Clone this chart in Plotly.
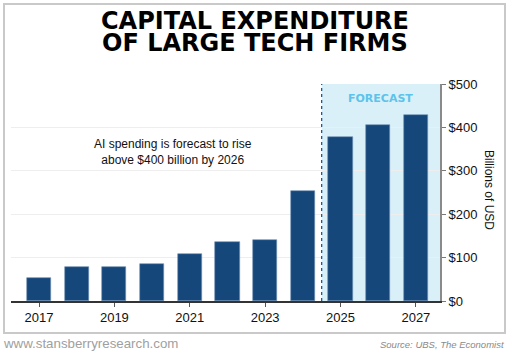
import plotly.graph_objects as go

years = [2017, 2018, 2019, 2020, 2021, 2022, 2023, 2024, 2025, 2026, 2027]
capex = [54, 79, 79, 86, 108, 136, 141, 254, 378, 405, 429]
tick_years = [2017, 2019, 2021, 2023, 2025, 2027]
tick_year_labels = [str(y) for y in tick_years]
y_ticks = [0, 100, 200, 300, 400, 500]
y_tick_labels = ["$" + str(v) for v in y_ticks]
forecast_start = 2024.5

W, H = 510, 352
L, R, T, B = 11, 440, 84, 301  # plot area in px

def px(x):
    return (x - L) / (R - L)

def py(y):
    return (B - y) / (B - T)

BAR = "#16477b"
FONT = "Liberation Sans"
TITLE_FONT = dict(family="DejaVu Sans", size=24, color="black", weight=700)

fig = go.Figure()
fig.add_trace(go.Bar(
    x=years, y=capex, width=0.64,
    marker=dict(color=BAR, line=dict(color="#6f8fb3", width=0.6)),
    hoverinfo="x+y",
))

shapes = [
    dict(type="rect", xref="x", yref="y", x0=forecast_start, x1=2027.64, y0=0, y1=500,
         fillcolor="#daf0f9", line=dict(width=0), layer="below"),
    dict(type="line", xref="x", yref="y", x0=forecast_start, x1=forecast_start, y0=0, y1=500,
         line=dict(color="#1d5a96", width=1.3, dash="3px,3px"), layer="above"),
    dict(type="rect", xref="paper", yref="paper", x0=px(4), x1=px(505), y0=py(333), y1=py(4),
         line=dict(color="#c9c9c9", width=2), fillcolor="rgba(0,0,0,0)", layer="below"),
]

annotations = [
    dict(text="CAPITAL EXPENDITURE", x=px(255), y=py(21), xref="paper", yref="paper",
         showarrow=False, font=TITLE_FONT, xanchor="center", yanchor="middle"),
    dict(text="OF LARGE TECH FIRMS", x=px(255), y=py(43.5), xref="paper", yref="paper",
         showarrow=False, font=TITLE_FONT, xanchor="center", yanchor="middle"),
    dict(text="AI spending is forecast to rise<br>above $400 billion by 2026", x=px(173), y=py(152),
         xref="paper", yref="paper", showarrow=False, align="center",
         font=dict(family=FONT, size=12, color="#111"), xanchor="center", yanchor="middle"),
    dict(text="FORECAST", x=px(380), y=py(98), xref="paper", yref="paper", showarrow=False,
         font=dict(family="DejaVu Sans", size=11, color="#5cc3ea", weight=700),
         xanchor="center", yanchor="middle"),
    dict(text="Billions of USD", x=px(489), y=py(190), xref="paper", yref="paper", showarrow=False,
         textangle=90, font=dict(family=FONT, size=12, color="#111"),
         xanchor="center", yanchor="middle"),
    dict(text="www.stansberryresearch.com", x=px(1), y=py(343), xref="paper", yref="paper",
         showarrow=False, font=dict(family=FONT, size=13.3, color="#a0a0a0"),
         xanchor="left", yanchor="middle"),
    dict(text="<i>Source: UBS, The Economist</i>", x=px(506), y=py(344), xref="paper", yref="paper",
         showarrow=False, font=dict(family=FONT, size=9.5, color="#8a8a8a"),
         xanchor="right", yanchor="middle"),
]

fig.update_layout(
    width=W, height=H,
    margin=dict(l=L, r=W - R, t=T, b=H - B),
    paper_bgcolor="white", plot_bgcolor="white",
    showlegend=False, bargap=0,
    shapes=shapes, annotations=annotations,
    font=dict(family=FONT, color="#111"),
)
fig.update_xaxes(
    range=[2016.257, 2027.64], tickvals=tick_years, ticktext=tick_year_labels,
    ticks="outside", ticklen=4, tickcolor="#555", tickwidth=1,
    showline=True, linecolor="#333", linewidth=1.5, showgrid=False, zeroline=False,
    tickfont=dict(family=FONT, size=13, color="#111"),
)
fig.update_yaxes(
    range=[0, 500], side="right", tickvals=y_ticks, ticktext=y_tick_labels,
    ticks="outside", ticklen=4, tickcolor="#777", tickwidth=1,
    showline=True, linecolor="#8a8a8a", linewidth=2,
    showgrid=True, gridcolor="#eeeeee", gridwidth=1, zeroline=False,
    tickfont=dict(family=FONT, size=13, color="#111"),
)

fig.write_html("out.html")
